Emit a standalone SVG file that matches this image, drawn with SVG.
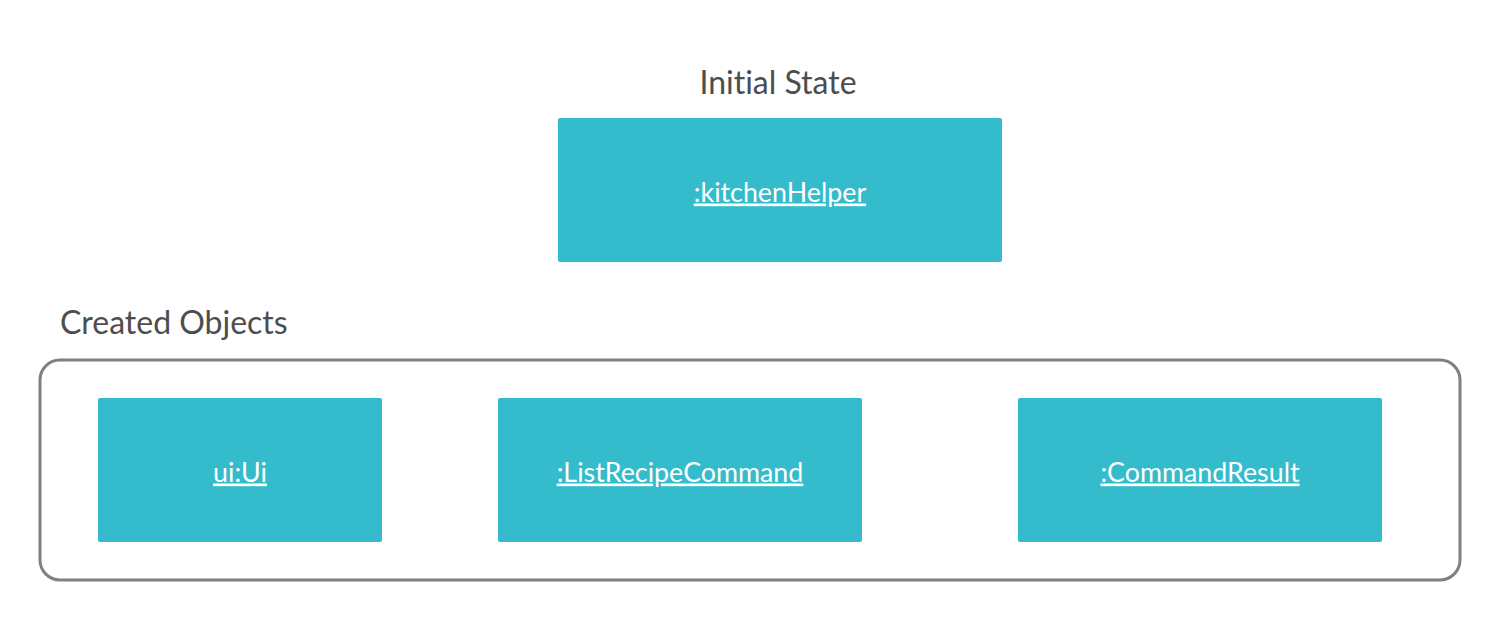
<svg xmlns="http://www.w3.org/2000/svg" width="1500" height="620" viewBox="0 0 1500 620">
<style>
.box{fill:#34BCCD;}
.lbl{font-family:Lato,"Open Sans",sans-serif;font-size:26.8px;fill:#ffffff;text-anchor:middle;text-decoration:underline;font-variant-ligatures:none;}
.ttl{font-family:Lato,"Open Sans",sans-serif;font-size:32px;fill:#4d4d4d;font-variant-ligatures:none;}
</style>
<rect width="1500" height="620" fill="#ffffff"/>
<text class="ttl" x="778" y="94" text-anchor="middle">Initial State</text>
<text class="ttl" x="60" y="334">Created Objects</text>
<g id="container"><rect x="40" y="360" width="1420" height="220" rx="20" fill="none" stroke="#808080" stroke-width="3"/></g>
<g id="kitchenHelper"><rect class="box" x="558" y="118" width="444" height="144" rx="2"/><text class="lbl" x="780" y="201.5">:kitchenHelper</text></g>
<g id="ui"><rect class="box" x="98" y="398" width="284" height="144" rx="2"/><text class="lbl" x="240" y="481.5">ui:Ui</text></g>
<g id="listRecipeCommand"><rect class="box" x="498" y="398" width="364" height="144" rx="2"/><text class="lbl" x="680" y="481.5">:ListRecipeCommand</text></g>
<g id="commandResult"><rect class="box" x="1018" y="398" width="364" height="144" rx="2"/><text class="lbl" x="1200" y="481.5">:CommandResult</text></g>
<g id="connectors"/>
</svg>
